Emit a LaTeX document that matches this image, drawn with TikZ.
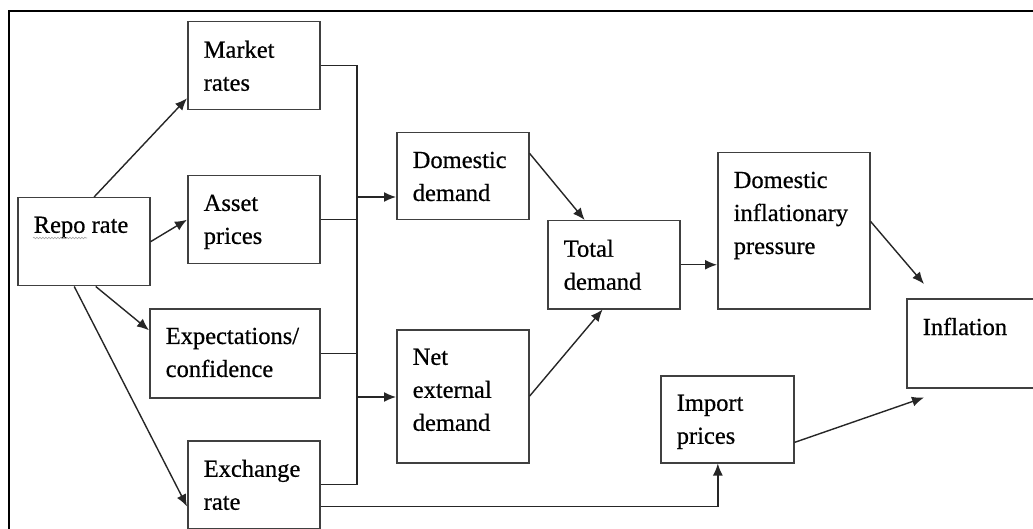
\documentclass[tikz,border=0pt]{standalone}
\usepackage{fontspec}
\setmainfont{Liberation Serif}
\newfontfamily\boxfont[FakeBold=0.6]{Liberation Serif}
\usetikzlibrary{arrows.meta,calc,decorations.pathmorphing}

% text block set at the top left of a box of given width and height
\newcommand{\boxtxt}[3]{\parbox[c][#2][t]{#1}{\vspace*{19pt}\raggedright\leftskip=16pt\relax #3}}

\tikzset{
  blk/.style={draw=black!75, line width=1.5pt, inner sep=0pt, anchor=north west,
              text=black, font=\boxfont\fontsize{24.5}{33}\selectfont},
  link/.style={draw=black!85, line width=1.4pt},
  arr/.style={link, -{Latex[length=12pt,width=10pt]}},
  frame/.style={draw=black, line width=2pt}
}

\begin{document}
\begin{tikzpicture}[x=1pt, y=-1pt]
\useasboundingbox (0,0) rectangle (1033,529);
\clip (0,0) rectangle (1033,529);

% outer frame
\draw[frame] (9,545) -- (9,11) -- (1050,11);

% boxes
\node[blk] (repo)   at (17,197)  {\boxtxt{132pt}{88pt}{Repo rate}};
\node[blk] (mkt)    at (187,21)  {\boxtxt{132pt}{88pt}{Market\\rates}};
\node[blk] (asset)  at (187,175) {\boxtxt{132pt}{88pt}{Asset\\prices}};
\node[blk] (expect) at (149,308) {\boxtxt{170pt}{89pt}{Expectations/\\confidence}};
\node[blk] (exch)   at (187,440) {\boxtxt{132pt}{88pt}{Exchange\\rate}};
\node[blk] (dom)    at (396,132) {\boxtxt{132pt}{87pt}{Domestic\\demand}};
\node[blk] (net)    at (396,329) {\boxtxt{132pt}{133pt}{Net\\external\\demand}};
\node[blk] (total)  at (547,220) {\boxtxt{132pt}{88pt}{Total\\demand}};
\node[blk] (dip)    at (717,152) {\boxtxt{152pt}{156pt}{Domestic\\inflationary\\pressure}};
\node[blk] (infl)   at (906,298) {\boxtxt{140pt}{89pt}{Inflation}};
\node[blk] (imp)    at (660,375) {\boxtxt{133pt}{87pt}{Import\\prices}};

% spell-check underline under "Repo"
\draw[gray!70, line width=0.6pt, decorate,
      decoration={snake, amplitude=0.8pt, segment length=3pt}]
  ($(repo.north west)+(16,41)$) -- ($(repo.north west)+(70,41)$);

% repo rate fans out
\draw[arr] (repo.77)  -- (mkt.206);
\draw[arr] (repo.east) -- (asset.west);
\draw[arr] (repo.-75) -- (expect.165);
\draw[arr] (repo.258) -- (exch.198);

% collecting bus
\coordinate (busx) at (357,0);
\coordinate (jdom) at (357,197);
\coordinate (jnet) at (357,397);
\draw[link] (mkt.east) -| (busx |- exch.east) -- (exch.east);
\draw[link] (asset.east) -- (asset.east -| busx);
\draw[link] (expect.east) -- (expect.east -| busx);
\draw[arr] (jdom) -- (jdom -| dom.west);
\draw[arr] (jnet) -- (jnet -| net.west);

% demand to inflation
\draw[arr] (dom.19) -- (total.123);
\draw[arr] (net.east) -- (total.256);
\draw[arr] (total.east) -- (total.east -| dip.west);
\coordinate (intop) at ($(infl.north west)+(18,-14)$);
\coordinate (inbot) at ($(infl.south west)+(18,9)$);
\draw[arr] (dip.7) -- (intop);
\draw[arr] (imp.-19) -- (inbot);

% exchange rate to import prices
\draw[arr] (exch.-18) -| (imp.258);
\end{tikzpicture}
\end{document}
